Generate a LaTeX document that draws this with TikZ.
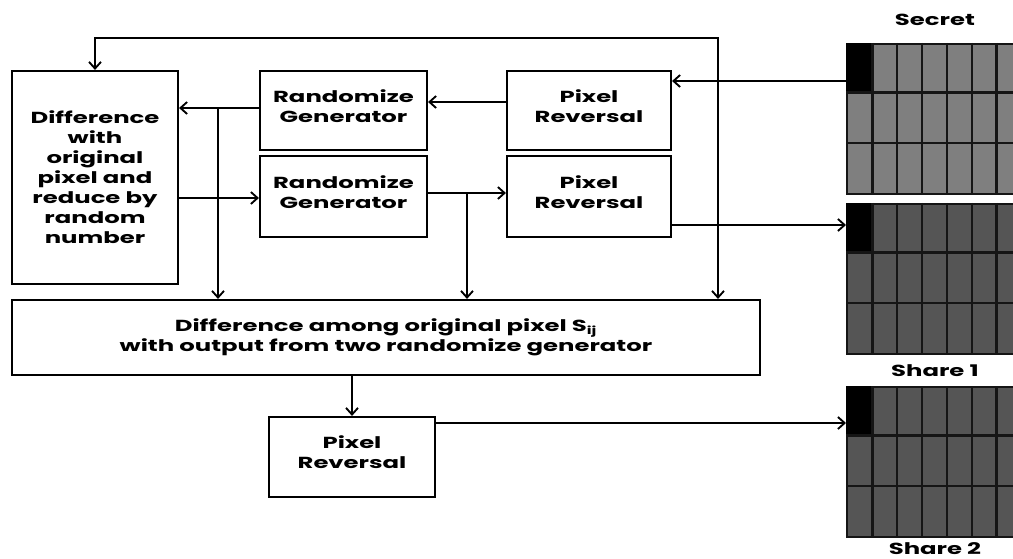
\documentclass[tikz,border=0pt]{standalone}
\usepackage{fontspec}
\setmainfont{Poppins}[FakeStretch=1.52]
\usetikzlibrary{arrows.meta,positioning}

\definecolor{secretgray}{HTML}{7F7F7F}
\definecolor{sharegray}{HTML}{555555}
\definecolor{gridline}{HTML}{151515}

\tikzset{
  blk/.style={draw, line width=1.6pt, align=center, inner sep=2pt,
    font=\bfseries\fontsize{12}{15}\selectfont},
  flow/.style={line width=1.4pt, ->},
  pixgrid/.style={draw=gridline, line width=1.6pt, inner sep=0pt, anchor=north west,
    minimum width=131.8pt, minimum height=112.5pt},
  gridlbl/.style={inner sep=1pt, font=\bfseries\fontsize{12}{14}\selectfont}
}

\begin{document}
\begin{tikzpicture}[x=0.75pt, y=-0.75pt, >={Straight Barb[length=5pt,width=9pt]}]
\useasboundingbox (0,0) rectangle (1013,559);

\node[blk, minimum width=124.5pt, minimum height=159.75pt] (diff) at (95,177.5)
  {Difference\\with\\original\\pixel and\\reduce by\\random\\number};
\node[blk, minimum width=125.25pt, minimum height=59.25pt] (rg1) at (343.5,110.5) {Randomize\\Generator\\[-8pt]\mbox{}};
\node[blk, minimum width=125.25pt, minimum height=60.75pt] (rg2) at (343.5,196.5) {Randomize\\Generator\\[-8pt]\mbox{}};
\node[blk, minimum width=123pt, minimum height=59.25pt] (pr1) at (589,110.5) {Pixel\\Reversal\\[-8pt]\mbox{}};
\node[blk, minimum width=123pt, minimum height=60.75pt] (pr2) at (589,196.5) {Pixel\\Reversal\\[-8pt]\mbox{}};
\node[blk, minimum width=561pt, minimum height=56.25pt] (among) at (386,337.5)
  {Difference among original pixel S\textsubscript{ij}\\with output from two randomize generator};
\node[blk, minimum width=124.5pt, minimum height=60pt] (pr3) at (352,457) {Pixel\\Reversal\\[-8pt]\mbox{}};

\node[pixgrid, fill=secretgray] (secret) at (846,43) {};
\node[pixgrid, fill=sharegray] (share1) at (846,203) {};
\node[pixgrid, fill=sharegray] (share2) at (846,386) {};
\foreach \g in {secret,share1,share2}{
  \begin{scope}[shift={(\g.north west)}]
    \fill (0,0) rectangle (26.5,49.5);
    \foreach \k in {1,...,6}
      \draw[gridline, line width=1.6pt] ({26.5+24.8*(\k-1)},0) -- ({26.5+24.8*(\k-1)},150);
    \draw[gridline, line width=1.6pt] (0,49.5) -- (176,49.5) (0,100) -- (176,100);
  \end{scope}
}
\node[gridlbl, above=12pt of secret] (secretlbl) {Secret};
\node[gridlbl, below=6pt of share1] (share1lbl) {Share 1};
\node[gridlbl, below=2pt of share2] (share2lbl) {Share 2};

\coordinate (top) at (718,38);
\coordinate (j1) at (218,108);
\coordinate (j2) at (467,193);

\draw[flow, <->] (diff.north) |- (top) -- (top |- among.north);
\draw[flow] (secret.west |- 0,81) -- (pr1.east |- 0,81);
\draw[flow] (pr1.west |- 0,102) -- (rg1.east |- 0,102);
\draw[flow] (rg1.west |- 0,108) -- (diff.east |- 0,108);
\draw[flow] (j1) -- (j1 |- among.north);
\draw[flow] (diff.east |- 0,198) -- (rg2.west |- 0,198);
\draw[flow] (rg2.east |- 0,193) -- (pr2.west |- 0,193);
\draw[flow] (j2) -- (j2 |- among.north);
\draw[flow] (pr2.east |- 0,225) -- (share1.west |- 0,225);
\draw[flow] (pr3.north |- among.south) -- (pr3.north);
\draw[flow] (pr3.east |- 0,423) -- (share2.west |- 0,423);
\end{tikzpicture}
\end{document}
